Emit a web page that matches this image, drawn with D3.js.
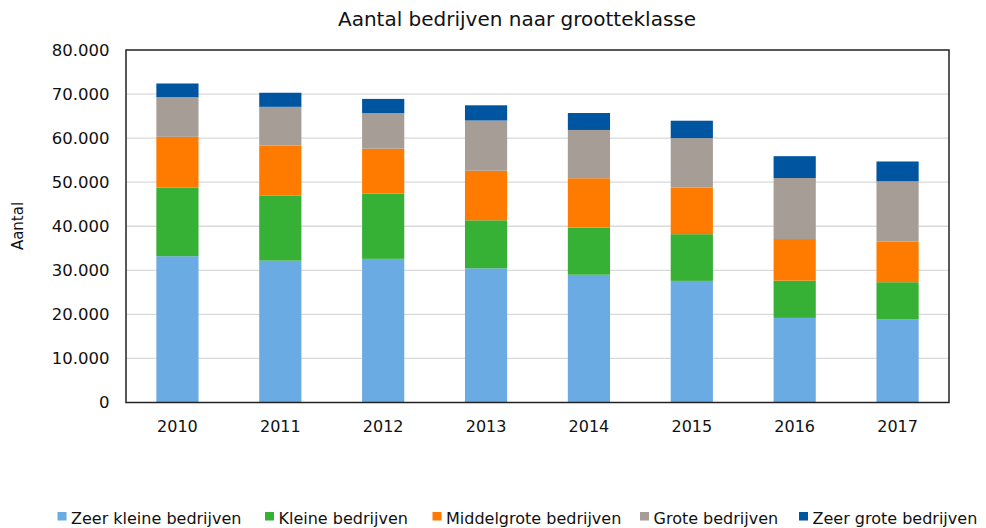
<!DOCTYPE html>
<html>
<head>
<meta charset="utf-8">
<script src="https://cdn.jsdelivr.net/npm/d3@7"></script>
<style>
  body { margin: 0; background: #fff; }
  svg { display: block; font-family: Verdana, "DejaVu Sans", sans-serif; }
</style>
</head>
<body>
<svg></svg>
<script>
// Aantal bedrijven naar grootteklasse, stacked columns 2010-2017

let width = 986,
    height = 528;

let years = ['2010', '2011', '2012', '2013', '2014', '2015', '2016', '2017'];

let series = ['Zeer kleine bedrijven', 'Kleine bedrijven', 'Middelgrote bedrijven',
              'Grote bedrijven', 'Zeer grote bedrijven'];

let zeerKlein   = [33200, 32200, 32600, 30450, 29000, 27600, 19200, 18900];
let klein       = [15600, 14800, 14800, 10900, 10700, 10600,  8450,  8400];
let middelgroot = [11500, 11300, 10200, 11250, 11200, 10600,  9450,  9200];
let groot       = [ 9000,  8800,  8100, 11400, 10950, 11200, 13850, 13700];
let zeerGroot   = [ 3100,  3200,  3200,  3450,  3850,  3950,  4950,  4500];

let yTicks = [0, 10000, 20000, 30000, 40000, 50000, 60000, 70000, 80000];

let colors = ['#6aabe3', '#36b035', '#ff7b00', '#a59d96', '#0055a1'];

let margin = {top: 50, right: 37, bottom: 125.5, left: 126};

let svg = d3.select("svg")
    .attr("width", width)
    .attr("height", height);

let nl = d3.formatLocale({decimal: ",", thousands: ".", grouping: [3], currency: ["€", ""]});
let fmt = nl.format(",.0f");

let rows = years.map((y, i) => ({
    year: y,
    'Zeer kleine bedrijven': zeerKlein[i],
    'Kleine bedrijven': klein[i],
    'Middelgrote bedrijven': middelgroot[i],
    'Grote bedrijven': groot[i],
    'Zeer grote bedrijven': zeerGroot[i]
}));

let stacked = d3.stack().keys(series)(rows);

let x = d3.scaleBand()
    .domain(years)
    .range([margin.left, width - margin.right])
    .paddingInner(0.59)
    .paddingOuter(0.295);

let y = d3.scaleLinear()
    .domain([0, 80000])
    .range([height - margin.bottom, margin.top]);

// gridlines
svg.append("g")
    .selectAll("line")
    .data(yTicks.slice(1, -1))
    .enter().append("line")
    .attr("x1", margin.left)
    .attr("x2", width - margin.right)
    .attr("y1", d => y(d))
    .attr("y2", d => y(d))
    .attr("stroke", "#d9d9d9")
    .attr("stroke-width", 1.3);

// bars
svg.append("g")
    .selectAll("g")
    .data(stacked)
    .enter().append("g")
    .attr("fill", (d, i) => colors[i])
    .selectAll("rect")
    .data(d => d)
    .enter().append("rect")
    .attr("x", d => x(d.data.year))
    .attr("width", x.bandwidth())
    .attr("y", d => y(d[1]))
    .attr("height", d => y(d[0]) - y(d[1]));

// plot frame
svg.append("rect")
    .attr("x", margin.left)
    .attr("y", margin.top)
    .attr("width", width - margin.right - margin.left)
    .attr("height", height - margin.bottom - margin.top)
    .attr("fill", "none")
    .attr("stroke", "#222")
    .attr("stroke-width", 1.5);

// y axis
let yAxis = svg.append("g")
    .attr("transform", `translate(${margin.left},0)`)
    .call(d3.axisLeft(y).tickValues(yTicks).tickFormat(fmt).tickSize(0).tickPadding(16.5));
yAxis.select(".domain").remove();
yAxis.selectAll("text")
    .attr("font-size", 16.5)
    .attr("font-family", "Verdana, 'DejaVu Sans', sans-serif")
    .attr("fill", "#111");

// x axis
let xAxis = svg.append("g")
    .attr("transform", `translate(0,${height - margin.bottom})`)
    .call(d3.axisBottom(x).tickSize(0));
xAxis.select(".domain").remove();
xAxis.selectAll("text")
    .attr("y", 29)
    .attr("dy", 0)
    .attr("font-size", 16)
    .attr("font-family", "Verdana, 'DejaVu Sans', sans-serif")
    .attr("fill", "#111");

// title
svg.append("text")
    .attr("x", 517)
    .attr("y", 26)
    .attr("text-anchor", "middle")
    .attr("font-size", 20)
    .attr("fill", "#111")
    .text("Aantal bedrijven naar grootteklasse");

// y label
svg.append("text")
    .attr("transform", "translate(23,226) rotate(-90)")
    .attr("text-anchor", "middle")
    .attr("font-size", 15)
    .attr("fill", "#111")
    .text("Aantal");

// legend (kept just inside the bottom edge so descenders are not cut)
let legendX = [57.5, 265, 432.5, 640, 799];
let legend = svg.append("g").attr("class", "legend");
let item = legend.selectAll("g")
    .data(series)
    .enter().append("g")
    .attr("transform", (d, i) => `translate(${legendX[i]},512)`);
item.append("rect")
    .attr("x", 0)
    .attr("y", 0)
    .attr("width", 9)
    .attr("height", 8.5)
    .attr("fill", (d, i) => colors[i]);
item.append("text")
    .attr("x", 13.5)
    .attr("y", 11.5)
    .attr("font-size", 16)
    .attr("fill", "#111")
    .text(d => d);
</script>
</body>
</html>
